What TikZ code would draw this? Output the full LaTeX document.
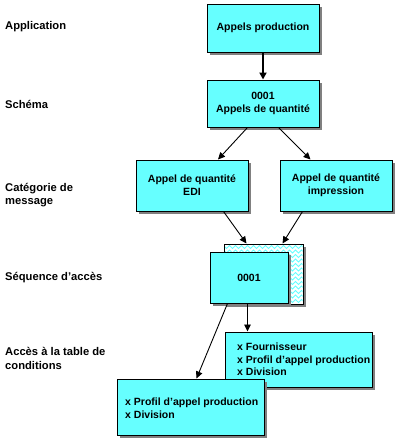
\documentclass[tikz,border=0pt]{standalone}
\usepackage{fontspec}
\setmainfont{Liberation Sans}
\usetikzlibrary{arrows.meta,shadows,decorations.pathmorphing,calc}
\definecolor{boxcyan}{HTML}{66FFFF}
\definecolor{shadowgray}{HTML}{808080}
\tikzset{
  box/.style={draw=black, line width=1pt, fill=boxcyan, inner sep=0pt,
    font=\fontsize{10.5}{13}\selectfont\bfseries, align=center,
    drop shadow={shadow xshift=3pt, shadow yshift=-3pt, fill=shadowgray, opacity=1}},
  lbl/.style={anchor=west, inner sep=0pt, align=left, font=\fontsize{11.2}{13.5}\selectfont\bfseries},
  btxt/.style={anchor=west, inner sep=0pt, align=left, font=\fontsize{10.5}{12.7}\selectfont\bfseries},
  arr/.style={-{Triangle[length=7pt,width=6.5pt]}, line width=0.9pt},
  thickarr/.style={-{Triangle[length=7pt,width=7pt]}, line width=2pt},
}
\begin{document}
\begin{tikzpicture}[x=1pt,y=-1pt]
\useasboundingbox (0,0) rectangle (397,440);
% labels
\node[lbl] (l1) at (5,27) {Application};
\node[lbl] (l2) at (5,104) {Schéma};
\node[lbl] (l3) at (5,195) {Catégorie de\\message};
\node[lbl] (l4) at (5,278) {Séquence d’accès};
\node[lbl] (l5) at (5,358.5) {Accès à la table de\\conditions};
% boxes
\node[box, minimum width=112pt, minimum height=48pt] (b1) at (263,28) {Appels production};
\node[box, minimum width=112pt, minimum height=47pt] (b2) at (263,103.5) {0001\\Appels de quantité};
\node[box, minimum width=112pt, minimum height=51pt] (b3) at (192,185.5) {Appel de quantité\\EDI};
\node[box, minimum width=112pt, minimum height=51pt] (b4) at (336,185.5) {Appel de quantité\\impression};
% back hatched box
\node[draw=black, line width=1pt, fill=white, inner sep=0pt, minimum width=79pt, minimum height=60pt,
  drop shadow={shadow xshift=3pt, shadow yshift=-3pt, fill=shadowgray, opacity=1}] (bk) at (263.5,274) {};
\begin{scope}
  \clip ($(bk.south west)+(1,-1)$) rectangle ($(bk.north east)+(-1,1)$);
  \foreach \yy in {247,251.5,...,305} {
    \draw[boxcyan, line width=0.8pt, decorate, decoration={zigzag, segment length=6pt, amplitude=1.5pt}] (222,\yy) -- (306,\yy);
  }
\end{scope}
\node[draw=black, line width=1pt, inner sep=0pt, minimum width=79pt, minimum height=60pt] at (263.5,274) {};
\node[box, minimum width=78pt, minimum height=51pt] (fr) at (249,277.5) {0001};
% bottom boxes
\node[box, minimum width=147pt, minimum height=55pt] (b5) at (298.5,359.5) {};
\node[btxt] (t5) at (237,359.5) {x Fournisseur\\x Profil d’appel production\\x Division};
\node[box, minimum width=147pt, minimum height=56pt] (b6) at (190.5,407) {};
\node[btxt] (t6) at (125,408.5) {x Profil d’appel production\\x Division};
% arrows
\draw[thickarr] (b1.south) -- (b2.north);
\draw[arr] ($(b2.south west)+(41,0)$) -- ($(b3.north)+(26,0)$);
\draw[arr] ($(b2.south west)+(72,0)$) -- ($(b4.north west)+(31,0)$);
\draw[arr] ($(b3.south west)+(88,0)$) -- ($(bk.north west)+(23,0)$);
\draw[arr] ($(b4.south west)+(23,0)$) -- ($(bk.north west)+(59,0)$);
\draw[arr] ($(fr.south west)+(18,0)$) -- ($(b6.north west)+(80,0)$);
\draw[arr] ($(fr.south west)+(38,0)$) -- ($(b5.north west)+(23,0)$);
\end{tikzpicture}
\end{document}
